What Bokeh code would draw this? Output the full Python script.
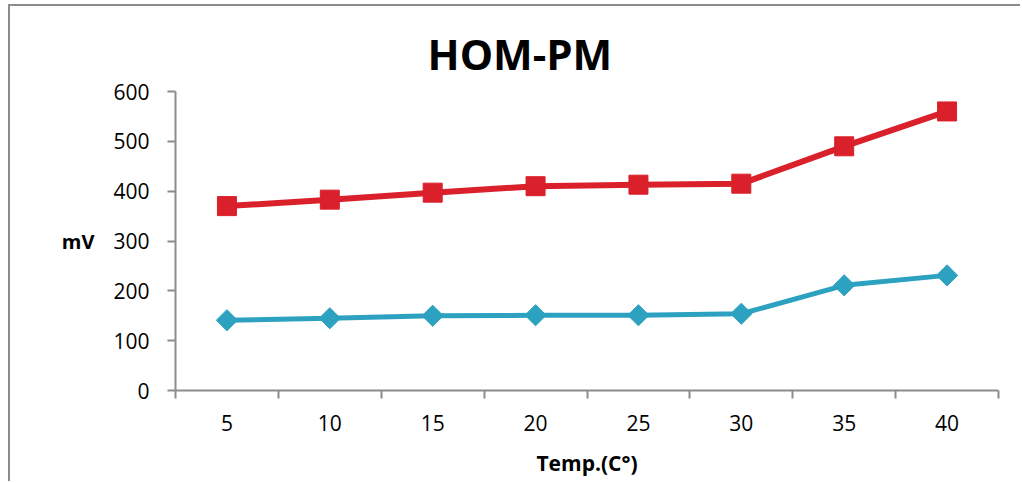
from bokeh.plotting import figure
from bokeh.models import FixedTicker, Range1d, Title
from bokeh.embed import file_html
from bokeh.resources import INLINE
import math

temps = ["5", "10", "15", "20", "25", "30", "35", "40"]
red_vals = [370, 383, 397, 410, 413, 415, 490, 560]
blue_vals = [141, 145, 150, 151, 151, 154, 211, 231]
y_ticks = [0, 100, 200, 300, 400, 500, 600]

xs = list(range(1, len(temps) + 1))
FONT = "Open Sans"
GRAY = "#8c8c8c"

p = figure(width=1012, height=477, output_backend="svg", toolbar_location=None,
           x_range=Range1d(0.5, len(temps) + 0.5), y_range=Range1d(0, 600),
           min_border_left=165, min_border_right=24, min_border_top=85, min_border_bottom=93)
p.styles = {"margin-left": "8px", "margin-top": "4px",
            "border-left": "2px solid " + GRAY, "border-top": "2px solid " + GRAY}
p.outline_line_color = None
p.grid.visible = False

t = Title(text="HOM-PM", align="left", offset=252, text_font=FONT, text_font_size="42px",
          text_font_style="bold", text_color="black", standoff=19)
p.add_layout(t, "above")

# x axis
xa = p.xaxis[0]
xa.ticker = FixedTicker(ticks=xs, minor_ticks=[i + 0.5 for i in range(0, len(temps) + 1)])
xa.major_label_overrides = {x: lab for x, lab in zip(xs, temps)}
xa.major_tick_out = 0
xa.major_tick_in = 0
xa.minor_tick_out = 8
xa.minor_tick_in = 0
xa.minor_tick_line_color = GRAY
xa.minor_tick_line_width = 2
xa.axis_line_color = GRAY
xa.axis_line_width = 2
xa.major_label_text_font = FONT
xa.major_label_text_font_size = "21px"
xa.major_label_text_color = "black"
xa.major_label_standoff = 16
xa.axis_label = "Temp.(C°)"
xa.axis_label_text_font = FONT
xa.axis_label_text_font_size = "21px"
xa.axis_label_text_font_style = "bold"
xa.axis_label_text_color = "black"
xa.axis_label_standoff = 15

# y axis
ya = p.yaxis[0]
ya.ticker = FixedTicker(ticks=y_ticks, minor_ticks=[])
ya.major_tick_out = 8
ya.major_tick_in = 0
ya.major_tick_line_color = GRAY
ya.major_tick_line_width = 2
ya.axis_line_color = GRAY
ya.axis_line_width = 2
ya.major_label_text_font = FONT
ya.major_label_text_font_size = "21px"
ya.major_label_text_color = "black"
ya.major_label_standoff = 18
ya.axis_label = "mV"
ya.axis_label_orientation = "horizontal"
ya.axis_label_text_font = FONT
ya.axis_label_text_font_size = "20px"
ya.axis_label_text_font_style = "bold"
ya.axis_label_text_color = "black"
ya.axis_label_standoff = 16

RED = "#d9202b"
BLUE = "#2ca2c0"
p.line(xs, blue_vals, line_color=BLUE, line_width=5)
p.scatter(xs, blue_vals, marker="square", angle=math.pi / 4, size=15,
          fill_color=BLUE, line_color=BLUE)
p.line(xs, red_vals, line_color=RED, line_width=6)
p.scatter(xs, red_vals, marker="square", size=19, fill_color=RED, line_color=RED)

open("out.html", "w").write(file_html(p, INLINE))
